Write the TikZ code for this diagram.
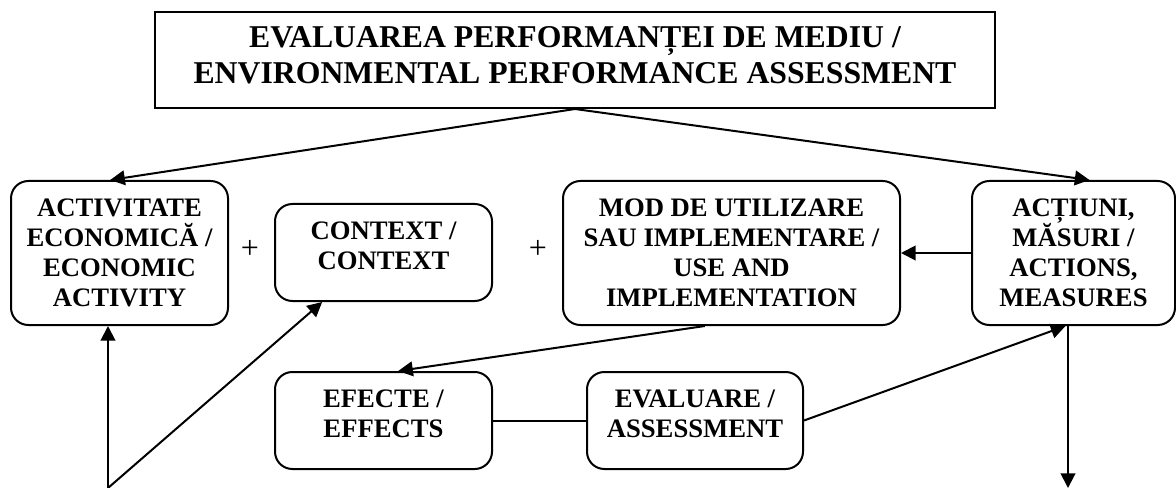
\documentclass[tikz,border=0pt]{standalone}
\usepackage{fontspec}
\setmainfont{Liberation Serif}
\usetikzlibrary{arrows.meta}

\begin{document}
\begin{tikzpicture}[x=0.75pt,y=-0.75pt]
    \tikzset{
        box/.style={draw, line width=1.5pt, rounded corners=13pt, align=center, inner sep=0pt,
            font=\fontsize{20pt}{22.5pt}\selectfont\bfseries},
        upper/.style={text depth=10.5pt},
        link/.style={line width=1.5pt, -{Triangle[length=11pt,width=11pt]}},
        plus/.style={font=\fontsize{24pt}{26pt}\selectfont}
    }
    \useasboundingbox (0,0) rectangle (1176,488);
    \node[box, sharp corners, minimum width=630pt, minimum height=72pt, text depth=7.5pt,
        font=\fontsize{23.8pt}{27pt}\selectfont\bfseries] (title) at (575,60)
        {EVALUAREA PERFORMANȚEI DE MEDIU /\\ENVIRONMENTAL PERFORMANCE ASSESSMENT};
    \node[box, minimum width=162.75pt, minimum height=108pt] (act) at (119.5,253)
        {ACTIVITATE\\ECONOMICĂ /\\ECONOMIC\\ACTIVITY};
    \node[box, upper, minimum width=162.75pt, minimum height=72.75pt] (ctx) at (383.5,252.5)
        {CONTEXT /\\CONTEXT};
    \node[box, minimum width=252.75pt, minimum height=108pt] (mod) at (731.5,253)
        {MOD DE UTILIZARE\\SAU IMPLEMENTARE /\\USE AND\\IMPLEMENTATION};
    \node[box, minimum width=152.25pt, minimum height=108pt] (actiuni) at (1073.5,253)
        {ACȚIUNI,\\MĂSURI /\\ACTIONS,\\MEASURES};
    \node[box, upper, minimum width=162.75pt, minimum height=72.75pt] (efecte) at (383.5,420.5)
        {EFECTE /\\EFFECTS};
    \node[box, upper, minimum width=162pt, minimum height=72.75pt] (eval) at (695,420.5)
        {EVALUARE /\\ASSESSMENT};
    \node[plus] (plusA) at (250,249) {+};
    \node[plus] (plusB) at (538,249) {+};
    \coordinate (srcL) at (108,488);
    \coordinate (outR) at (1068,488);
    \draw[link] (title.south) -- ([xshift=-7pt]act.north);
    \draw[link] (title.south) -- ([xshift=12pt]actiuni.north);
    \draw[link] (actiuni.west) -- (mod.east);
    \draw[link] ([xshift=-20pt]mod.south) -- ([xshift=11pt]efecte.north);
    \draw[line width=1.5pt] (efecte) -- (eval);
    \draw[link] (eval.east) -- ([xshift=-6pt]actiuni.south);
    \draw[link] (outR |- actiuni.south) -- (outR);
    \draw[link] (srcL) -- (srcL |- act.south);
    \draw[link] (srcL) -- ([xshift=-46pt]ctx.south);
\end{tikzpicture}
\end{document}
